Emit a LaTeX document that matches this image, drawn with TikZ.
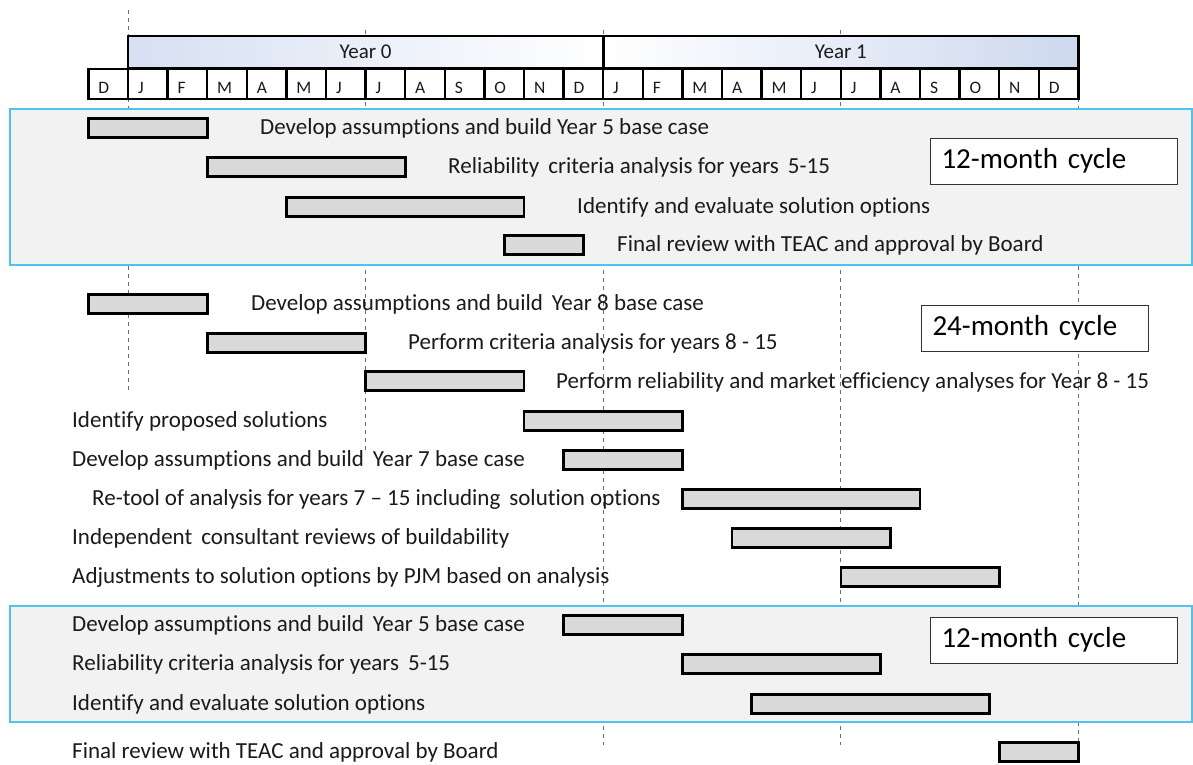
\documentclass[tikz,border=0pt]{standalone}
\usepackage{fontspec}
\setmainfont{Carlito}[Ligatures=NoCommon]
\definecolor{panelfill}{HTML}{F2F2F2}
\definecolor{panelline}{HTML}{4FC3F0}
\definecolor{barfill}{HTML}{D9D9D9}
\definecolor{dashcol}{HTML}{5F7390}
\definecolor{yb}{RGB}{197,210,236}
\definecolor{txt}{HTML}{1A1A1A}
\begin{document}
\begin{tikzpicture}[x=1pt,y=-1pt,
  bar/.style={draw=black,fill=barfill,line width=2.6pt,minimum height=19pt,inner sep=0pt,outer sep=0pt},
  lab/.style={anchor=west,inner sep=0pt,text=txt,font=\fontsize{23}{26}\selectfont},
  dline/.style={draw=dashcol,line width=0.9pt,dash pattern=on 4pt off 4pt},
  panel/.style={draw=panelline,fill=panelfill,line width=1.5pt},
  cycbox/.style={draw=black!80,fill=white,line width=1pt,minimum height=46pt,inner xsep=11pt,align=left,anchor=west,font=\fontsize{29}{32}\selectfont,text=black},
  yearbox/.style={draw=black,line width=2.6pt,minimum height=32pt,inner sep=0pt,font=\fontsize{21}{24}\selectfont,text=txt},
  mcell/.style={draw=black,line width=2.4pt,minimum width=39.6pt,minimum height=30pt,inner sep=0pt},
  mlab/.style={anchor=base west,inner sep=0pt,font=\fontsize{17.5}{20}\selectfont,text=txt}
]
\useasboundingbox (0,0) rectangle (1193,765);
% dashed month guides
\draw[dline] (128,10) -- (128,390);
\draw[dline] (365.6,30) -- (365.6,452);
\draw[dline] (603.2,30) -- (603.2,745);
\draw[dline] (840.8,30) -- (840.8,745);
\draw[dline] (1078.4,98) -- (1078.4,745);
% panels
\draw[panel] (10,109) rectangle (1192,265);
\draw[panel] (10,606) rectangle (1192,722);
% header
\node[yearbox,minimum width=475.2pt,left color=yb!70,middle color=yb,right color=white] (y0) at (365.6,52) {Year 0};
\node[yearbox,minimum width=475.2pt,left color=white,middle color=yb,right color=yb!85] (y1) at (840.8,52) {Year 1};
\foreach \i/\m in {0/D,1/J,2/F,3/M,4/A,5/M,6/J,7/J,8/A,9/S,10/O,11/N,12/D,13/J,14/F,15/M,16/A,17/M,18/J,19/J,20/A,21/S,22/O,23/N,24/D}{
  \node[mcell] (m\i) at ({88.4+39.6*\i+19.8},84) {};
  \node[mlab] (ml\i) at ([xshift=11pt,yshift=-10pt]m\i.west) {\m};
}
% bars
\foreach \n/\a/\b/\y in {1/88.4/207.2/128, 2/207.2/405.2/167, 3/286.4/524/207, 4/504.2/583.4/245,
  5/88.4/207.2/304, 6/207.2/365.6/343, 7/365.6/524/381, 8/524/682.4/421, 9/563.6/682.4/460,
  10/682.4/920/499, 11/732/890.3/538, 12/840.8/999.2/577,
  13/563.6/682.4/625, 14/682.4/880.4/664, 15/751.7/989.3/704, 16/999.2/1078.4/752}{
  \pgfmathsetmacro\w{\b-\a}
  \pgfmathsetmacro\c{(\a+\b)/2}
  \node[bar,minimum width=\w pt] (bar\n) at (\c,\y) {};
}
% labels
\node[lab] (l1) at (260,128) {Develop assumptions and build Year 5 base case};
\node[lab] (l2) at (448,167) {Reliability\, criteria analysis for years\, 5-15};
\node[lab] (l3) at (577,207) {Identify and evaluate solution options};
\node[lab] (l4) at (617,245) {Final review with TEAC and approval by Board};
\node[lab] (l5) at (251,304) {Develop assumptions and build\, Year 8 base case};
\node[lab] (l6) at (408,343) {Perform criteria analysis for years 8 - 15};
\node[lab] (l7) at (556,382) {Perform reliability and market efficiency analyses for Year 8 - 15};
\node[lab] (l8) at (72,421) {Identify proposed solutions};
\node[lab] (l9) at (72,460) {Develop assumptions and build\, Year 7 base case};
\node[lab] (l10) at (92,499) {Re-tool of analysis for years 7 – 15 including\, solution options};
\node[lab] (l11) at (72,538) {Independent\, consultant reviews of buildability};
\node[lab] (l12) at (72,577) {Adjustments to solution options by PJM based on analysis};
\node[lab] (l13) at (72,625) {Develop assumptions and build\, Year 5 base case};
\node[lab] (l14) at (72,664) {Reliability criteria analysis for years\, 5-15};
\node[lab] (l15) at (72,704) {Identify and evaluate solution options};
\node[lab] (l16) at (72,752) {Final review with TEAC and approval by Board};
% cycle boxes
\node[cycbox,text width=225pt] (c1) at (930,161) {12-month cycle};
\node[cycbox,text width=205pt] (c2) at (921,328) {24-month cycle};
\node[cycbox,text width=225pt] (c3) at (930,640) {12-month cycle};
\end{tikzpicture}
\end{document}
